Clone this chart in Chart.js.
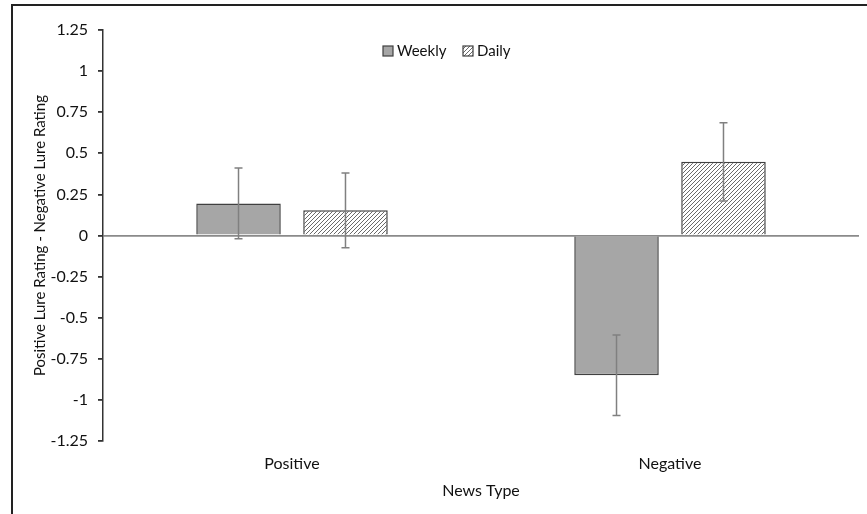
<!DOCTYPE html>
<html>
<head>
<meta charset="utf-8">
<script src="https://cdn.jsdelivr.net/npm/chart.js@4"></script>
<style>
html,body{margin:0;padding:0;background:#fff;}
#wrap{position:relative;width:867px;height:514px;}
#frame{position:absolute;left:11px;top:4px;right:0;bottom:0;border-left:2px solid #222;border-top:2px solid #222;pointer-events:none;}
</style>
</head>
<body>
<div id="wrap">
<canvas id="c" width="867" height="514"></canvas>
<div id="frame"></div>
</div>
<script>
const categories = ['Positive', 'Negative'];
const seriesNames = ['Weekly', 'Daily'];
const weekly = [0.195, -0.85];
const daily = [0.153, 0.448];
const weeklyErr = [0.215, 0.245];
const dailyErr = [0.227, 0.238];
const yTicks = [-1.25, -1, -0.75, -0.5, -0.25, 0, 0.25, 0.5, 0.75, 1, 1.25];

const FONT = 'Lato, "Open Sans", sans-serif';

function hatch() {
  const s = 4;
  const c = document.createElement('canvas');
  c.width = s; c.height = s;
  const g = c.getContext('2d');
  g.fillStyle = '#fff';
  g.fillRect(0, 0, s, s);
  g.strokeStyle = '#6a6a6a';
  g.lineWidth = 1;
  g.beginPath();
  g.moveTo(0, s); g.lineTo(s, 0);
  g.moveTo(-1, 1); g.lineTo(1, -1);
  g.moveTo(s - 1, s + 1); g.lineTo(s + 1, s - 1);
  g.stroke();
  return g.createPattern(c, 'repeat');
}
const ctx = document.getElementById('c').getContext('2d');
const hatchPattern = hatch();
const fills = ['#a6a6a6', hatchPattern];
const errs = [weeklyErr, dailyErr];

const errorBars = {
  id: 'errorBars',
  afterDatasetsDraw(chart) {
    const g = chart.ctx;
    const y = chart.scales.y;
    g.save();
    g.strokeStyle = '#808080';
    g.lineWidth = 1.5;
    chart.data.datasets.forEach((ds, i) => {
      const meta = chart.getDatasetMeta(i);
      meta.data.forEach((el, j) => {
        const v = ds.data[j], e = errs[i][j];
        const y1 = y.getPixelForValue(v + e), y2 = y.getPixelForValue(v - e);
        const x = el.x;
        g.beginPath();
        g.moveTo(x, y1); g.lineTo(x, y2);
        g.moveTo(x - 4, y1); g.lineTo(x + 4, y1);
        g.moveTo(x - 4, y2); g.lineTo(x + 4, y2);
        g.stroke();
      });
    });
    g.restore();
  }
};

const legendPlugin = {
  id: 'myLegend',
  afterDraw(chart) {
    const g = chart.ctx;
    g.save();
    g.font = '15px ' + FONT;
    g.textBaseline = 'middle';
    const items = [{x: 383, tx: 397}, {x: 463, tx: 477}];
    const cy = 51;
    items.forEach((it, i) => {
      g.fillStyle = fills[i];
      g.fillRect(it.x, cy - 5, 10, 10);
      g.strokeStyle = '#404040';
      g.lineWidth = 1.2;
      g.strokeRect(it.x, cy - 5, 10, 10);
      g.fillStyle = '#111';
      g.fillText(seriesNames[i], it.tx, cy);
    });
    g.restore();
  }
};

new Chart(ctx, {
  type: 'bar',
  data: {
    labels: categories,
    datasets: [
      {label: seriesNames[0], data: weekly, backgroundColor: fills[0], borderColor: '#404040', borderWidth: 1.5},
      {label: seriesNames[1], data: daily, backgroundColor: fills[1], borderColor: '#404040', borderWidth: 1.5}
    ]
  },
  options: {
    responsive: false,
    animation: false,
    devicePixelRatio: 1,
    categoryPercentage: 0.566,
    barPercentage: 0.79,
    layout: {padding: {left: 14, top: 30, right: 8, bottom: 0}},
    plugins: {legend: {display: false}, tooltip: {enabled: false}},
    scales: {
      x: {
        grid: {display: false, drawTicks: false},
        border: {display: false},
        ticks: {padding: 13, color: '#111', font: {family: FONT, size: 16}},
        title: {display: true, text: 'News Type', color: '#111', font: {family: FONT, size: 16}, padding: {top: 4, bottom: 14}},
        afterFit(s) { s.height = 73; }
      },
      y: {
        min: -1.25, max: 1.25,
        afterBuildTicks(s) { s.ticks = yTicks.map(v => ({value: v})); },
        grid: {
          color: c => (c.tick && c.tick.value === 0) ? '#8a8a8a' : 'rgba(0,0,0,0)',
          lineWidth: 1.8,
          tickColor: '#333',
          tickLength: 5,
          drawTicks: true
        },
        border: {display: true, color: '#333', width: 1.5},
        ticks: {padding: 10, color: '#111', font: {family: FONT, size: 16}, callback: v => String(v)},
        title: {display: true, text: 'Positive Lure Rating - Negative Lure Rating', color: '#111', font: {family: FONT, size: 15}, padding: {top: 17, bottom: 0}},
        afterFit(s) { s.width = 89; }
      }
    }
  },
  plugins: [errorBars, legendPlugin]
});
</script>
</body>
</html>
